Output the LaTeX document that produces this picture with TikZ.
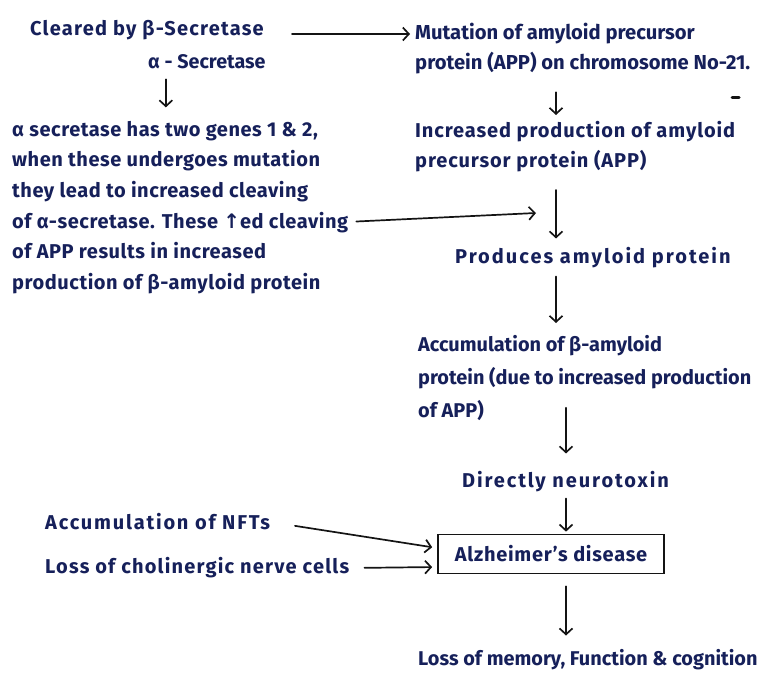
\documentclass[tikz,border=0pt]{standalone}
\usepackage{fontspec}
\setmainfont{Fira Sans}
\newfontfamily\symfont{DejaVu Sans}
\usetikzlibrary{arrows.meta}
\definecolor{ink}{HTML}{16205A}
\definecolor{pen}{HTML}{141414}
\begin{document}
\begin{tikzpicture}[x=1pt,y=-1pt,
  % size, line distance, letter spacing (percent of the size)
  txt/.style n args={3}{text=ink,inner sep=0pt,align=left,
    font=\fontsize{#1}{#2}\selectfont\bfseries\addfontfeatures{LetterSpace=#3}},
  flow/.style={draw=pen,line width=1.7pt,line cap=round,
    -{Straight Barb[length=6pt,width=13pt,line width=1.7pt]}},
  diseasebox/.style={draw=pen,line width=1.7pt,minimum width=226pt,minimum height=39pt,
    inner sep=0pt,text=ink,font=\fontsize{20}{24}\selectfont\bfseries\addfontfeatures{LetterSpace=3.6}},
]
\useasboundingbox (0,0) rectangle (759,678);

% columns of the vertical arrows
\coordinate (colA) at (556,0);
\coordinate (colB) at (566,0);

% left-hand chain
\node[txt={20}{26}{6.2},anchor=west] (cleared) at (30,30) {Cleared by β-Secretase};
\node[txt={19.7}{24}{0},anchor=west] (alpha) at (148,62) {α - Secretase};
\node[txt={20}{30.6}{2.7},anchor=north west] (genes) at (12,121)
  {α secretase has two genes 1 \& 2,\\
   when these undergoes mutation\\
   they lead to increased cleaving\\
   of α-secretase. These {\symfont↑}ed cleaving\\
   of APP results in increased\\
   production of β-amyloid protein};

% main column
\node[txt={20.2}{30}{0},anchor=north west] (mut) at (415,23)
  {Mutation of amyloid precursor\\protein (APP) on chromosome No-21.};
\node[txt={20}{30}{4.5},anchor=north west] (inc) at (415,121)
  {Increased production of amyloid\\precursor protein (APP)};
\node[txt={20}{28}{10},anchor=west] (prod) at (455,258) {Produces amyloid protein};
\node[txt={19.9}{33}{0},anchor=north west] (accum) at (418,335)
  {Accumulation of β-amyloid\\protein (due to increased production\\of APP)};
\node[txt={20}{28}{9.5},anchor=west] (neuro) at (462,482) {Directly neurotoxin};
\node[diseasebox] (ad) at (551,554) {Alzheimer's disease};
\node[txt={19.9}{24}{0},anchor=west] (loss) at (418,660) {Loss of memory, Function \& cognition};

% other causes
\node[txt={20}{28}{9},anchor=west] (nft) at (45,522) {Accumulation of NFTs};
\node[txt={20}{28}{6},anchor=west] (chol) at (45,568) {Loss of cholinergic nerve cells};

% meeting point of the side arrow
\coordinate (meet) at (536,213);

% connectors
\draw[flow] ([xshift=-41pt,yshift=-10pt]alpha.south) -- ([xshift=-41pt,yshift=-38pt]alpha.south);
\draw[flow] ([xshift=28pt,yshift=-4pt]cleared.east) -- ([xshift=-5pt,yshift=-11pt]mut.north west);
\draw[flow,shorten <=18pt,shorten >=6pt] (mut.south -| colA) -- (inc.north -| colA);
\draw[flow,shorten <=18pt,shorten >=9pt] (inc.south -| colA) -- (prod.north -| colA);
\draw[flow] ([xshift=8pt,yshift=-14pt]genes.east) -- (meet);
\draw[flow,shorten <=8pt,shorten >=12pt] (prod.south -| colA) -- (accum.north -| colA);
\draw[flow,shorten >=18pt] ([yshift=13pt]accum.south -| colB) -- (neuro.north -| colB);
\draw[flow,shorten <=6pt,shorten >=2pt] (neuro.south -| colB) -- (ad.north -| colB);
\draw[flow,shorten <=12pt,shorten >=14pt] (ad.south -| colB) -- (loss.north -| colB);
\draw[flow,shorten <=25pt,shorten >=5pt] (nft.east) -- ([yshift=6pt]ad.west);
\draw[flow,shorten <=15pt,shorten >=5pt] (chol.east) -- ([yshift=-13pt]ad.west);

% stray pen mark
\draw[pen,line width=3pt,line cap=round] (732,97) -- (739,97);
\end{tikzpicture}
\end{document}
